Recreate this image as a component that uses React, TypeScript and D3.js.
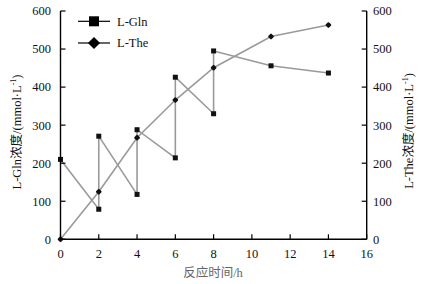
import React from "react";
import * as d3 from "d3";

const glnTimes = [0, 2, 2, 4, 4, 6, 6, 8, 8, 11, 14];
const glnValues = [210, 79, 271, 118, 288, 214, 426, 330, 495, 456, 437];
const theTimes = [0, 2, 4, 6, 8, 11, 14];
const theValues = [0, 125, 267, 366, 451, 533, 563];
const xTicks = [0, 2, 4, 6, 8, 10, 12, 14, 16];
const yTicks = [0, 100, 200, 300, 400, 500, 600];
const seriesNames = ["L-Gln", "L-The"];

const W = 422;
const H = 284;
const FONT = "'Liberation Serif', 'Times New Roman', 'Noto Sans CJK SC', serif";

export default function App() {
  const x = d3.scaleLinear().domain([0, 16]).range([60.5, 366.7]);
  const y = d3.scaleLinear().domain([0, 600]).range([239.3, 11]);
  const glnPts: [number, number][] = glnTimes.map((t, i) => [t, glnValues[i]]);
  const thePts: [number, number][] = theTimes.map((t, i) => [t, theValues[i]]);
  const line = d3.line<[number, number]>().x((d) => x(d[0])).y((d) => y(d[1]));
  const lineColor = "#9a9a9a";

  return (
    <svg
      width={W}
      height={H}
      style={{ position: "fixed", left: 0, top: 0, background: "#fff" }}
      fontFamily={FONT}
    >
      {/* series lines */}
      <path d={line(glnPts) || ""} fill="none" stroke={lineColor} strokeWidth={1.6} />
      <path d={line(thePts) || ""} fill="none" stroke={lineColor} strokeWidth={1.6} />
      {/* markers */}
      {glnPts.map((d, i) => (
        <rect key={"g" + i} x={x(d[0]) - 2.5} y={y(d[1]) - 2.5} width={5} height={5} fill="#111" />
      ))}
      {thePts.map((d, i) => (
        <rect
          key={"t" + i}
          x={-2.3}
          y={-2.3}
          width={4.6}
          height={4.6}
          rx={1}
          transform={`translate(${x(d[0])},${y(d[1])}) rotate(45)`}
          fill="#111"
        />
      ))}

      {/* axes */}
      <line x1={x(0)} x2={x(0)} y1={y(600)} y2={y(0)} stroke="#000" strokeWidth={1.4} />
      <line x1={x(16)} x2={x(16)} y1={y(600)} y2={y(0)} stroke="#000" strokeWidth={1.4} />
      <line x1={x(0)} x2={x(16)} y1={y(0)} y2={y(0)} stroke="#000" strokeWidth={1.4} />
      {yTicks.map((t) => (
        <g key={"yt" + t}>
          <line x1={x(0)} x2={x(0) + 5} y1={y(t)} y2={y(t)} stroke="#000" strokeWidth={1.2} />
          <line x1={x(16) - 5} x2={x(16)} y1={y(t)} y2={y(t)} stroke="#000" strokeWidth={1.2} />
          <text x={51} y={y(t)} dy="0.35em" textAnchor="end" fontSize={12.5} fill="#111">
            {t}
          </text>
          <text x={373} y={y(t)} dy="0.35em" textAnchor="start" fontSize={12.5} fill="#111">
            {t}
          </text>
        </g>
      ))}
      {xTicks.map((t) => (
        <g key={"xt" + t}>
          <line x1={x(t)} x2={x(t)} y1={y(0)} y2={y(0) - 5} stroke="#000" strokeWidth={1.2} />
          <text x={x(t)} y={258} textAnchor="middle" fontSize={12.5} fill="#111">
            {t}
          </text>
        </g>
      ))}

      {/* axis titles */}
      <text
        transform={`translate(21,132) rotate(-90)`}
        textAnchor="middle"
        fontSize={12.5}
        fill="#111"
      >
        L-Gln浓度/(mmol·L
        <tspan fontSize={8} dy={-5}>-1</tspan>
        <tspan dy={5}>)</tspan>
      </text>
      <text
        transform={`translate(413,131) rotate(-90)`}
        textAnchor="middle"
        fontSize={12.5}
        fill="#111"
      >
        L-The浓度/(mmol·L
        <tspan fontSize={8} dy={-5}>-1</tspan>
        <tspan dy={5}>)</tspan>
      </text>
      <text x={213} y={277} textAnchor="middle" fontSize={12.5} fill="#666">
        反应时间/h
      </text>

      {/* legend */}
      <line x1={78} x2={110} y1={21.3} y2={21.3} stroke="#000" strokeWidth={1.2} />
      <rect x={89} y={16.3} width={10} height={10} fill="#000" />
      <text x={117} y={21.3} dy="0.35em" fontSize={12.5} fill="#111">
        {seriesNames[0]}
      </text>
      <line x1={78} x2={110} y1={43} y2={43} stroke="#000" strokeWidth={1.2} />
      <rect x={-4.3} y={-4.3} width={8.6} height={8.6} transform="translate(94,43) rotate(45)" fill="#000" />
      <text x={117} y={43} dy="0.35em" fontSize={12.5} fill="#111">
        {seriesNames[1]}
      </text>
    </svg>
  );
}
